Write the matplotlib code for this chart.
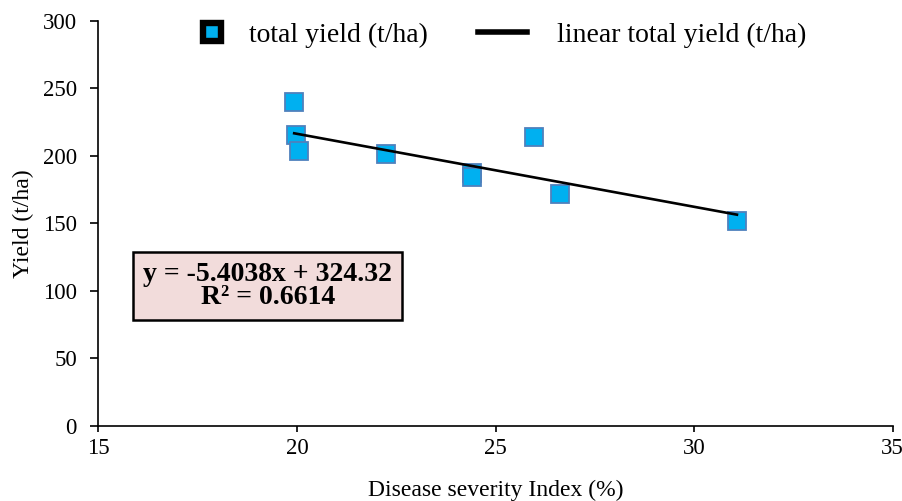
import matplotlib
matplotlib.use("Agg")
import matplotlib.pyplot as plt
import numpy as np
from matplotlib.lines import Line2D

plt.rcParams['font.family'] = ['Liberation Serif', 'DejaVu Serif']

severity = [19.93, 19.97, 20.06, 22.23, 24.40, 24.42, 25.97, 26.63, 31.08]
yield_tha = [240, 215, 203.5, 201.5, 187, 184, 214, 172, 152]
slope = -5.4038
intercept = 324.32
r2 = 0.6614

fig = plt.figure(figsize=(9.03, 5.01), dpi=100)
ax = fig.add_axes([0.109, 0.150, 0.8795, 0.8087])

ax.plot(severity, yield_tha, linestyle='none', marker='s', markersize=13.5,
        markerfacecolor='#00B0F0', markeredgecolor='#4F81BD', markeredgewidth=1.3,
        zorder=3)
xl = np.array([min(severity), max(severity)])
ax.plot(xl, slope * xl + intercept, color='black', linewidth=1.9, zorder=4)

ax.set_xlim(15, 35)
ax.set_ylim(0, 300)
ax.set_xticks([15, 20, 25, 30, 35])
ax.set_yticks([0, 50, 100, 150, 200, 250, 300])
for s in ['top', 'right']:
    ax.spines[s].set_visible(False)
for s in ['left', 'bottom']:
    ax.spines[s].set_linewidth(1.2)
    ax.spines[s].set_color('black')
ax.tick_params(axis='both', direction='out', width=1.2, labelsize=16.5, colors='black')
ax.tick_params(axis='x', length=4.5, pad=4)
ax.tick_params(axis='y', length=5.5, pad=10)

ax.set_xlabel('Disease severity Index (%)', fontsize=17, labelpad=15)
ax.set_ylabel('Yield (t/ha)', fontsize=17, labelpad=6)

eq = f'y = {slope}x + {intercept}\nR² = {r2}'
ax.text(0.2135, 0.345, eq, transform=ax.transAxes,
        ha='center', va='center', fontsize=20, fontweight='bold', linespacing=0.9,
        bbox=dict(boxstyle='square,pad=0.36', facecolor='#F2DCDB', edgecolor='black', linewidth=1.8))

h1 = Line2D([], [], linestyle='none', marker='s', markersize=12.5,
            markerfacecolor='#00B0F0', markeredgecolor='black', markeredgewidth=4.6)
h2 = Line2D([], [], color='black', linewidth=4)
leg1 = fig.legend([h1], ['total yield (t/ha)'], loc='center left',
                  bbox_to_anchor=(183 / 903, 1 - 35 / 501), frameon=False, fontsize=20,
                  handlelength=2.1, handletextpad=0.26, borderpad=0, borderaxespad=0)
leg2 = fig.legend([h2], ['linear total yield (t/ha)'], loc='center left',
                  bbox_to_anchor=(478 / 903, 1 - 35 / 501), frameon=False, fontsize=20,
                  handlelength=1.75, handletextpad=1.08, borderpad=0, borderaxespad=0)

fig.savefig('out.png', dpi=100)
